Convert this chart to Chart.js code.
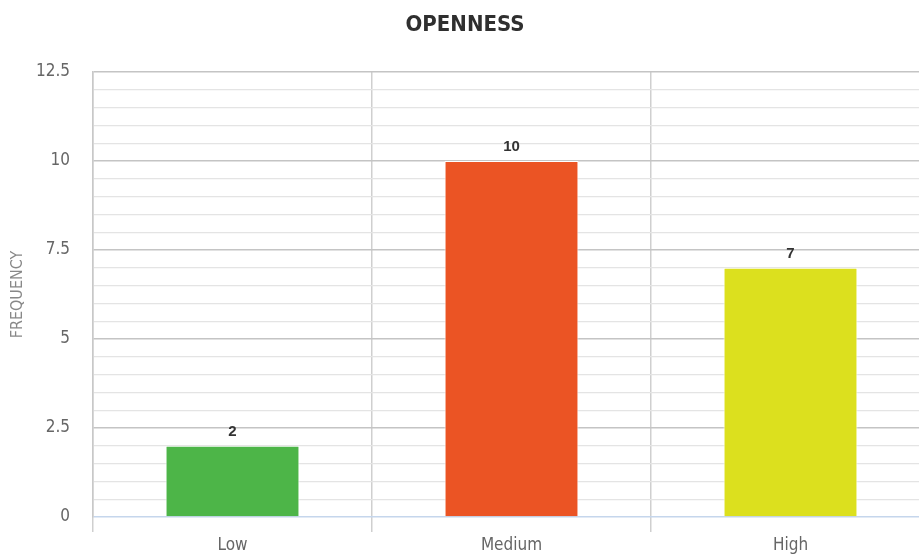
<!DOCTYPE html>
<html>
<head>
<meta charset="utf-8">
<script src="https://cdn.jsdelivr.net/npm/chart.js@4"></script>
<style>
  html, body { margin: 0; padding: 0; background: #fff; overflow: hidden; }
  #wrap { width: 930px; height: 556px; }
</style>
</head>
<body>
<div id="wrap"><canvas id="c" width="930" height="556"></canvas></div>
<script>
const categories = ['Low', 'Medium', 'High'];
const frequency = [2, 10, 7];
const barColors = ['#4db548', '#eb5424', '#dce01e'];
const yTickLabels = [0, 2.5, 5, 7.5, 10, 12.5];

const narrow = '"DejaVu Sans Condensed", "Liberation Sans", sans-serif';

// draws each bar's value just above it
const valueLabels = {
  id: 'valueLabels',
  afterDatasetsDraw(chart) {
    const ctx = chart.ctx;
    const meta = chart.getDatasetMeta(0);
    ctx.save();
    ctx.font = 'bold 15px "Liberation Sans", Arial, sans-serif';
    ctx.fillStyle = '#333333';
    ctx.textAlign = 'center';
    ctx.textBaseline = 'middle';
    meta.data.forEach((bar, i) => {
      ctx.fillText(String(frequency[i]), bar.x, bar.y - 14);
    });
    ctx.restore();
  }
};

new Chart(document.getElementById('c'), {
  type: 'bar',
  data: {
    labels: categories,
    datasets: [{
      data: frequency,
      backgroundColor: barColors,
      borderColor: '#ffffff',
      borderWidth: 1,
      barPercentage: 0.48,
      categoryPercentage: 1
    }]
  },
  options: {
    responsive: false,
    animation: false,
    layout: { padding: 0 },
    plugins: {
      legend: { display: false },
      tooltip: { enabled: false },
      title: {
        display: true,
        text: 'OPENNESS',
        color: '#2f2f2f',
        font: { family: narrow, size: 22, weight: 'bold', lineHeight: 1.2 },
        padding: { top: 12, bottom: 33.6 }
      }
    },
    scales: {
      x: {
        offset: true,
        grid: {
          offset: true,
          color: '#cfcfcf',
          lineWidth: 1.5,
          tickLength: 15
        },
        border: { display: false },
        ticks: {
          color: '#666666',
          font: { family: narrow, size: 17 },
          padding: 3
        },
        afterFit(s) { s.height = 39; }
      },
      y: {
        min: 0,
        max: 12.5,
        border: { display: true, color: '#c8c8c8', width: 1.5 },
        grid: {
          drawTicks: false,
          color(ctx) {
            const v = ctx.tick.value;
            if (v === 0) return '#c5d6ec';
            return yTickLabels.includes(v) ? '#c4c4c4' : '#e4e4e4';
          },
          lineWidth(ctx) {
            return yTickLabels.includes(ctx.tick.value) ? 1.5 : 1.2;
          }
        },
        ticks: {
          stepSize: 0.5,
          autoSkip: false,
          color: '#666666',
          padding: 23,
          font: { family: narrow, size: 17 },
          callback(v) { return yTickLabels.includes(v) ? String(v) : ''; }
        },
        title: {
          display: true,
          text: 'FREQUENCY',
          color: '#888888',
          font: { family: narrow, size: 16 },
          padding: { top: 8, bottom: 0 }
        },
        afterFit(s) { s.width = 93; }
      }
    }
  },
  plugins: [valueLabels]
});
</script>
</body>
</html>
